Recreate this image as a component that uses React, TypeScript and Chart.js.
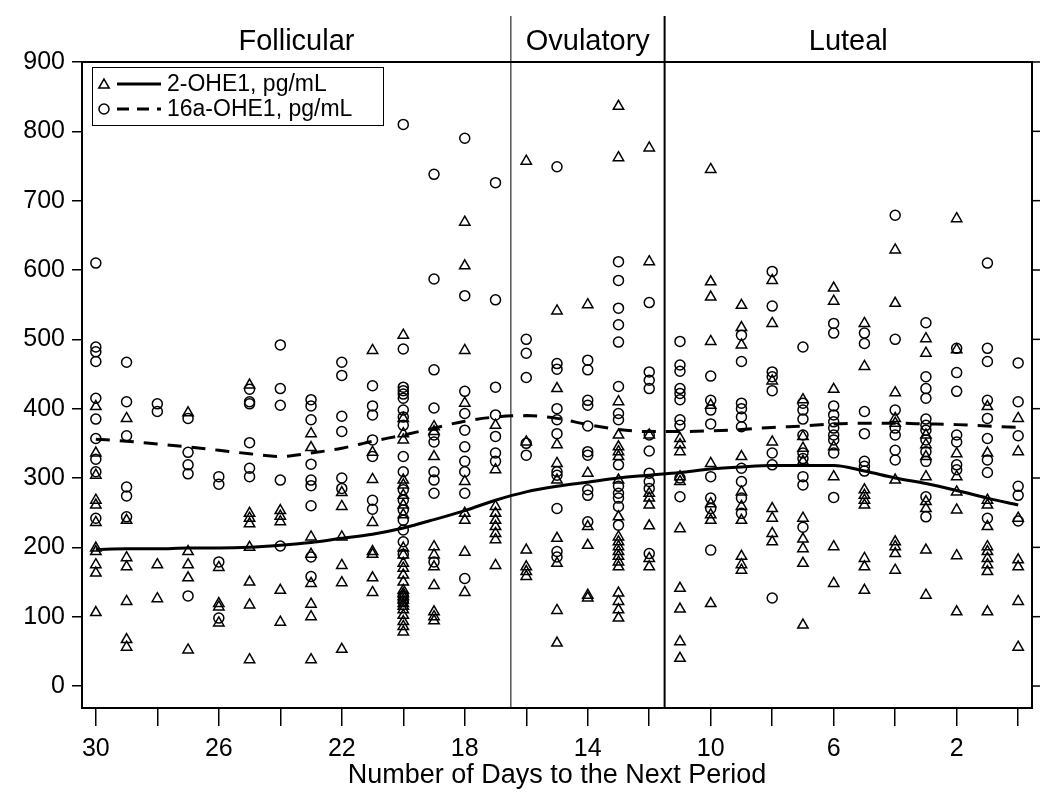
import React, { useEffect, useRef } from "react";
import { Chart, registerables } from "chart.js";

Chart.register(...registerables);

const days = [30, 29, 28, 27, 26, 25, 24, 23, 22, 21, 20, 19, 18, 17, 16, 15, 14, 13, 12, 11, 10, 9, 8, 7, 6, 5, 4, 3, 2, 1, 0];

// 2-OHE1 (triangles), one list per day, same order as `days`
const ohe2Points: number[][] = [
  [403, 336, 304, 268, 261, 236, 199, 194, 175, 163, 106],
  [386, 239, 185, 172, 122, 67, 56],
  [175, 126],
  [394, 194, 175, 156, 52],
  [171, 119, 114, 91],
  [434, 249, 242, 234, 200, 150, 117, 38],
  [253, 245, 237, 138, 92],
  [364, 344, 215, 190, 148, 118, 100, 38],
  [279, 259, 215, 174, 149, 53],
  [484, 337, 298, 236, 194, 190, 156, 135],
  [506, 386, 364, 355, 297, 290, 275, 261, 247, 199, 189, 177, 170, 160, 150, 138, 133, 129, 124, 119, 115, 110, 102, 93, 86, 78],
  [374, 367, 331, 201, 189, 172, 145, 107, 100, 94],
  [669, 606, 484, 408, 295, 249, 239, 193, 135],
  [376, 312, 259, 249, 239, 230, 220, 211, 174],
  [757, 352, 196, 172, 165, 158],
  [541, 429, 348, 321, 297, 213, 177, 109, 62],
  [550, 307, 230, 203, 131, 127],
  [836, 762, 410, 362, 345, 338, 331, 297, 244, 215, 208, 201, 194, 187, 179, 172, 134, 122, 110, 98],
  [776, 612, 362, 278, 271, 261, 231, 184, 172],
  [357, 348, 338, 302, 295, 227, 141, 111, 64, 40],
  [745, 583, 561, 497, 405, 321, 263, 247, 239, 119],
  [549, 517, 492, 331, 280, 259, 239, 187, 175, 167],
  [585, 523, 440, 352, 256, 242, 220, 208],
  [413, 360, 343, 324, 242, 212, 198, 177, 88],
  [574, 555, 428, 345, 302, 201, 148],
  [523, 461, 283, 275, 268, 261, 184, 172, 138],
  [629, 552, 423, 386, 379, 297, 208, 201, 191, 167],
  [501, 480, 362, 348, 331, 302, 266, 256, 196, 131],
  [674, 485, 335, 302, 280, 254, 188, 107],
  [403, 336, 268, 261, 230, 201, 194, 184, 175, 165, 107],
  [386, 338, 242, 182, 172, 122, 56],
];

// 16a-OHE1 (circles), one list per day, same order as `days`
const ohe16Points: number[][] = [
  [610, 489, 482, 468, 415, 385, 357, 327, 309, 242],
  [467, 410, 361, 287, 274, 244],
  [407, 396],
  [386, 337, 319, 306, 130],
  [302, 291, 179, 98],
  [428, 410, 407, 351, 314, 302],
  [492, 429, 405, 297, 202],
  [413, 404, 384, 320, 297, 289, 260, 186, 158],
  [467, 448, 389, 367, 300, 285],
  [433, 404, 391, 355, 331, 268, 255],
  [810, 486, 431, 426, 421, 415, 398, 388, 376, 331, 309, 283, 268, 254, 239, 225, 208, 190, 130, 122],
  [738, 587, 456, 401, 362, 352, 309, 297, 278, 179],
  [790, 563, 425, 393, 369, 345, 324, 309, 278, 155],
  [726, 557, 431, 391, 360, 336, 324],
  [500, 480, 445, 350, 333],
  [749, 465, 457, 400, 384, 364, 309, 304, 256, 194, 186],
  [470, 456, 412, 405, 375, 338, 333, 283, 275, 237],
  [612, 585, 545, 521, 496, 432, 393, 384, 319, 288, 278, 271, 259, 232],
  [553, 453, 441, 429, 362, 339, 307, 295, 285, 191],
  [497, 463, 454, 429, 422, 413, 384, 376, 300, 273],
  [447, 412, 398, 378, 302, 271, 256, 196],
  [506, 468, 408, 400, 388, 374, 314, 295, 271, 249],
  [598, 548, 453, 446, 426, 336, 319, 127],
  [489, 408, 398, 385, 362, 336, 328, 302, 290, 229],
  [523, 509, 404, 391, 381, 372, 362, 355, 336, 272],
  [509, 494, 396, 364, 324, 317, 310],
  [679, 500, 398, 372, 362, 340, 326],
  [524, 446, 429, 415, 385, 376, 369, 355, 338, 324, 273, 244],
  [487, 452, 425, 362, 352, 319, 312],
  [610, 487, 468, 412, 386, 357, 326, 308, 242],
  [466, 410, 361, 288, 275, 238],
];

const ohe2Smooth = [197, 198, 198, 199, 199, 200, 203, 207, 213, 219, 228, 240, 253, 268, 280, 288, 294, 300, 304, 308, 313, 316, 318, 318, 318, 310, 300, 292, 282, 271, 261];
const ohe16Smooth = [356, 353, 349, 345, 340, 335, 331, 336, 343, 353, 362, 372, 382, 388, 390, 386, 377, 370, 367, 367, 368, 370, 373, 375, 378, 379, 379, 378, 377, 375, 373];

const phaseLabels = ["Follicular", "Ovulatory", "Luteal"];
const phaseBounds = [16.5, 11.5];
const xTickValues = [30, 28, 26, 24, 22, 20, 18, 16, 14, 12, 10, 8, 6, 4, 2, 0];
const yTickValues = [0, 100, 200, 300, 400, 500, 600, 700, 800, 900];
const legendLabels = ["2-OHE1, pg/mL", "16a-OHE1, pg/mL"];
const xTitle = "Number of Days to the Next Period";

const FONT = '"Liberation Sans", Arial, sans-serif';

function flatten(lists: number[][]) {
  const out: { x: number; y: number }[] = [];
  lists.forEach((vals, i) => vals.forEach((v) => out.push({ x: days[i], y: v })));
  return out;
}

function drawTriangle(ctx: CanvasRenderingContext2D, cx: number, cy: number, r: number) {
  const a = (2 * Math.PI) / 3;
  ctx.beginPath();
  ctx.moveTo(cx, cy - r);
  ctx.lineTo(cx + Math.sin(a) * r, cy - Math.cos(a) * r);
  ctx.lineTo(cx - Math.sin(a) * r, cy - Math.cos(a) * r);
  ctx.closePath();
  ctx.stroke();
}

const framePlugin = {
  id: "framePlugin",
  afterDatasetsDraw(chart: any) {
    const { ctx, chartArea: ca, scales } = chart;
    const xs = scales.x;
    const ys = scales.y;
    ctx.save();
    ctx.strokeStyle = "#000";
    ctx.fillStyle = "#000";
    // frame
    ctx.lineWidth = 2;
    ctx.strokeRect(ca.left, ca.top, ca.right - ca.left, ca.bottom - ca.top);
    // right ticks
    ctx.lineWidth = 1.5;
    yTickValues.forEach((v) => {
      const py = ys.getPixelForValue(v);
      ctx.beginPath();
      ctx.moveTo(ca.right, py);
      ctx.lineTo(ca.right + 8, py);
      ctx.stroke();
    });
    // phase separators
    phaseBounds.forEach((d, i) => {
      const px = xs.getPixelForValue(d);
      ctx.lineWidth = i === 0 ? 1 : 2;
      ctx.beginPath();
      ctx.moveTo(px, 8);
      ctx.lineTo(px, ca.bottom);
      ctx.stroke();
    });
    // phase labels
    const edges = [ca.left, xs.getPixelForValue(phaseBounds[0]), xs.getPixelForValue(phaseBounds[1]), ca.right];
    ctx.font = "29px " + FONT;
    ctx.textAlign = "center";
    ctx.textBaseline = "middle";
    phaseLabels.forEach((t, i) => ctx.fillText(t, (edges[i] + edges[i + 1]) / 2, 34));
    // legend
    const bx = 84, by = 59, bw = 291, bh = 58;
    ctx.fillStyle = "#fff";
    ctx.fillRect(bx, by, bw, bh);
    ctx.lineWidth = 1;
    ctx.strokeRect(bx + 0.5, by + 0.5, bw, bh);
    ctx.fillStyle = "#000";
    ctx.font = "23px " + FONT;
    ctx.textAlign = "left";
    const rows = [76, 101];
    rows.forEach((ry, i) => {
      ctx.lineWidth = 1.5;
      if (i === 0) drawTriangle(ctx, 96, ry + 1, 6);
      else {
        ctx.beginPath();
        ctx.arc(96, ry, 5, 0, Math.PI * 2);
        ctx.stroke();
      }
      ctx.lineWidth = 3;
      ctx.setLineDash(i === 0 ? [] : [12, 8]);
      ctx.beginPath();
      ctx.moveTo(109, ry);
      ctx.lineTo(153, ry);
      ctx.stroke();
      ctx.setLineDash([]);
      ctx.fillText(legendLabels[i], 159, ry + 1);
    });
    ctx.restore();
  },
};

export default function App() {
  const ref = useRef<HTMLCanvasElement | null>(null);
  useEffect(() => {
    if (!ref.current) return;
    Chart.defaults.font.family = FONT;
    Chart.defaults.color = "#000";
    const chart = new Chart(ref.current, {
      type: "scatter",
      data: {
        datasets: [
          {
            type: "line",
            data: days.map((d, i) => ({ x: d, y: ohe2Smooth[i] })),
            borderColor: "#000",
            borderWidth: 3,
            pointRadius: 0,
            cubicInterpolationMode: "monotone",
            order: 0,
          } as any,
          {
            type: "line",
            data: days.map((d, i) => ({ x: d, y: ohe16Smooth[i] })),
            borderColor: "#000",
            borderWidth: 3,
            borderDash: [14, 10],
            pointRadius: 0,
            cubicInterpolationMode: "monotone",
            order: 0,
          } as any,
          {
            data: flatten(ohe2Points),
            pointStyle: "triangle",
            pointRadius: 6,
            pointHoverRadius: 6,
            borderColor: "#000",
            backgroundColor: "rgba(0,0,0,0)",
            borderWidth: 1.5,
            order: 1,
          },
          {
            data: flatten(ohe16Points),
            pointStyle: "circle",
            pointRadius: 5,
            pointHoverRadius: 5,
            borderColor: "#000",
            backgroundColor: "rgba(0,0,0,0)",
            borderWidth: 1.5,
            order: 1,
          },
        ],
      },
      options: {
        responsive: false,
        animation: false,
        events: [],
        layout: { padding: { top: 54, right: 10, left: 0, bottom: 0 } },
        plugins: { legend: { display: false }, tooltip: { enabled: false } },
        scales: {
          x: {
            type: "linear",
            reverse: true,
            min: -0.45,
            max: 30.45,
            afterBuildTicks: (s: any) => {
              s.ticks = xTickValues.map((v) => ({ value: v }));
            },
            afterFit: (s: any) => {
              s.height = 84;
            },
            grid: { drawOnChartArea: false, drawTicks: true, tickLength: 18, color: "#000", lineWidth: 1.5 },
            border: { display: true, color: "#000", width: 2 },
            ticks: {
              autoSkip: false,
              maxRotation: 0,
              padding: 8,
              font: { size: 25 },
              color: "#000",
              callback: (v: any) => ((30 - Number(v)) % 4 === 0 ? String(v) : ""),
            },
            title: { display: true, text: xTitle, font: { size: 27 }, color: "#000", padding: { top: 0, bottom: 0 } },
          },
          y: {
            type: "linear",
            min: -31.7,
            max: 900,
            afterBuildTicks: (s: any) => {
              s.ticks = yTickValues.map((v) => ({ value: v }));
            },
            afterFit: (s: any) => {
              s.width = 74;
            },
            grid: { drawOnChartArea: false, drawTicks: true, tickLength: 10, color: "#000", lineWidth: 1.5 },
            border: { display: true, color: "#000", width: 2 },
            ticks: { padding: 7, font: { size: 25 }, color: "#000" },
          },
        },
      },
      plugins: [framePlugin],
    });
    return () => chart.destroy();
  }, []);
  return (
    <div style={{ width: 1034, height: 784 }}>
      <canvas ref={ref} width={1034} height={784} style={{ display: "block" }} />
    </div>
  );
}
